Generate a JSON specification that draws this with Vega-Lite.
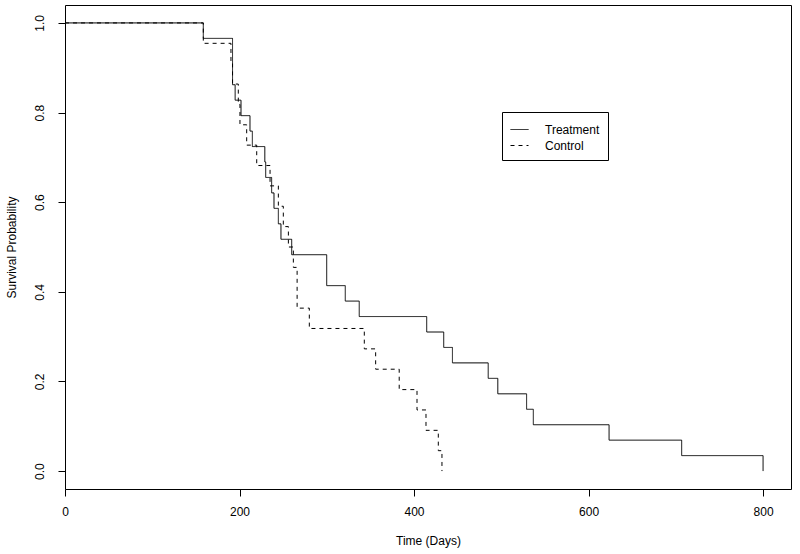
{
  "$schema": "https://vega.github.io/schema/vega-lite/v6.json",
  "width": 726,
  "height": 484,
  "autosize": {"type": "none"},
  "padding": {"left": 65, "top": 5, "right": 9, "bottom": 65},
  "background": "white",
  "config": {
    "view": {"stroke": "black", "strokeWidth": 1},
    "font": "Liberation Sans",
    "axis": {
      "grid": false,
      "domain": false,
      "tickColor": "black",
      "tickSize": 7,
      "tickWidth": 1,
      "labelColor": "black",
      "labelFont": "Liberation Sans",
      "labelFontSize": 12,
      "titleFont": "Liberation Sans",
      "titleFontSize": 12,
      "titleFontWeight": "normal",
      "titleColor": "black"
    }
  },
  "data": {
    "values": [
      {"group": "Treatment", "time": 0, "surv": 1.0},
      {"group": "Treatment", "time": 158.5, "surv": 0.9655},
      {"group": "Treatment", "time": 192, "surv": 0.8621},
      {"group": "Treatment", "time": 195, "surv": 0.8276},
      {"group": "Treatment", "time": 201.7, "surv": 0.7931},
      {"group": "Treatment", "time": 212, "surv": 0.7586},
      {"group": "Treatment", "time": 214.7, "surv": 0.7241},
      {"group": "Treatment", "time": 229, "surv": 0.6897},
      {"group": "Treatment", "time": 230, "surv": 0.6552},
      {"group": "Treatment", "time": 236.8, "surv": 0.6207},
      {"group": "Treatment", "time": 239.5, "surv": 0.5862},
      {"group": "Treatment", "time": 244.5, "surv": 0.5517},
      {"group": "Treatment", "time": 247.5, "surv": 0.5172},
      {"group": "Treatment", "time": 259.8, "surv": 0.4828},
      {"group": "Treatment", "time": 299.9, "surv": 0.4138},
      {"group": "Treatment", "time": 321.2, "surv": 0.3793},
      {"group": "Treatment", "time": 337.2, "surv": 0.3448},
      {"group": "Treatment", "time": 414.5, "surv": 0.3103},
      {"group": "Treatment", "time": 434, "surv": 0.2759},
      {"group": "Treatment", "time": 444, "surv": 0.2414},
      {"group": "Treatment", "time": 485, "surv": 0.2069},
      {"group": "Treatment", "time": 496, "surv": 0.1724},
      {"group": "Treatment", "time": 529, "surv": 0.1379},
      {"group": "Treatment", "time": 536.7, "surv": 0.1034},
      {"group": "Treatment", "time": 623.5, "surv": 0.069},
      {"group": "Treatment", "time": 706.7, "surv": 0.0345},
      {"group": "Treatment", "time": 800, "surv": 0.0},
      {"group": "Control", "time": 0, "surv": 1.0},
      {"group": "Control", "time": 158.5, "surv": 0.9545},
      {"group": "Control", "time": 190.2, "surv": 0.9091},
      {"group": "Control", "time": 192, "surv": 0.8636},
      {"group": "Control", "time": 198.6, "surv": 0.8182},
      {"group": "Control", "time": 200.5, "surv": 0.7727},
      {"group": "Control", "time": 208.2, "surv": 0.7273},
      {"group": "Control", "time": 219.7, "surv": 0.6818},
      {"group": "Control", "time": 235, "surv": 0.6364},
      {"group": "Control", "time": 244.5, "surv": 0.5909},
      {"group": "Control", "time": 250.2, "surv": 0.5455},
      {"group": "Control", "time": 256, "surv": 0.5},
      {"group": "Control", "time": 261.7, "surv": 0.4545},
      {"group": "Control", "time": 266, "surv": 0.3636},
      {"group": "Control", "time": 280, "surv": 0.3182},
      {"group": "Control", "time": 343, "surv": 0.2727},
      {"group": "Control", "time": 356, "surv": 0.2273},
      {"group": "Control", "time": 383, "surv": 0.1818},
      {"group": "Control", "time": 403.4, "surv": 0.1364},
      {"group": "Control", "time": 413.7, "surv": 0.0909},
      {"group": "Control", "time": 427.8, "surv": 0.0455},
      {"group": "Control", "time": 432, "surv": 0.0}
    ]
  },
  "mark": {"type": "line", "interpolate": "step-after", "strokeWidth": 1, "color": "black"},
  "encoding": {
    "x": {
      "field": "time",
      "type": "quantitative",
      "scale": {"domain": [0, 832], "nice": false, "zero": false},
      "axis": {
        "title": "Time (Days)",
        "values": [0, 200, 400, 600, 800],
        "labelPadding": 10,
        "titlePadding": 18,
        "labelFlush": false,
        "labelOverlap": false
      }
    },
    "y": {
      "field": "surv",
      "type": "quantitative",
      "scale": {"domain": [-0.04, 1.04], "nice": false, "zero": false},
      "axis": {
        "title": "Survival Probability",
        "values": [0, 0.2, 0.4, 0.6, 0.8, 1.0],
        "format": ".1f",
        "labelAngle": -90,
        "labelAlign": "center",
        "labelBaseline": "bottom",
        "labelPadding": 12,
        "titlePadding": 15,
        "labelFlush": false,
        "labelOverlap": false
      }
    },
    "strokeDash": {
      "field": "group",
      "type": "nominal",
      "scale": {"domain": ["Treatment", "Control"], "range": [[1, 0], [4, 4]]},
      "legend": {
        "title": null,
        "orient": "none",
        "legendX": 437,
        "legendY": 107,
        "strokeColor": "black",
        "fillColor": "white",
        "padding": 8,
        "symbolType": "stroke",
        "symbolSize": 324,
        "symbolStrokeWidth": 1,
        "symbolStrokeColor": "black",
        "labelFont": "Liberation Sans",
        "labelFontSize": 12,
        "labelColor": "black",
        "labelOffset": 16,
        "rowPadding": 0
      }
    }
  }
}
